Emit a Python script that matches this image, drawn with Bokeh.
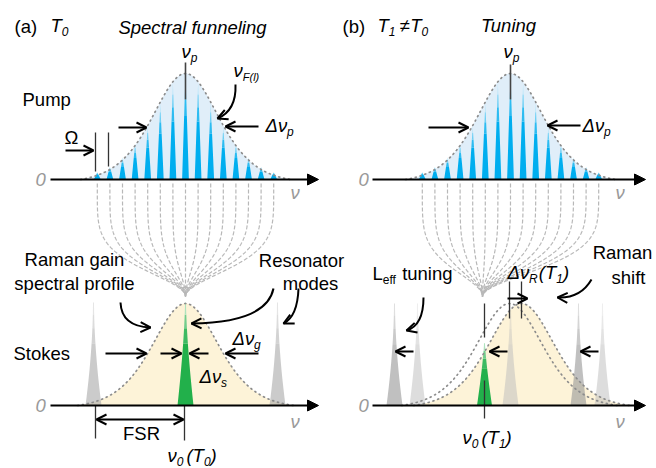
import numpy as np
from bokeh.plotting import figure
from bokeh.models import Range1d, Arrow, OpenHead, NormalHead
from bokeh.core.properties import value
from bokeh.embed import file_html
from bokeh.resources import INLINE

FONT = "Liberation Sans"

# ---------------- schematic values ----------------
# pump comb: line order and relative line power (follows the pump envelope)
COMB_ORDER = [-7, -6, -5, -4, -3, -2, -1, 0, 1, 2, 3, 4, 5, 6, 7]
COMB_REL_POWER = [0.07, 0.12, 0.21, 0.34, 0.50, 0.72, 0.91, 1.00,
                  0.91, 0.72, 0.50, 0.34, 0.21, 0.12, 0.07]
PUMP_CENTER = [185, 510]          # nu_p of panels (a), (b)
COMB_SPACING = 12.6               # Omega
FUNNEL_TARGET = [185, 482]        # where the funnel converges (nu_0)
# Stokes resonator modes
MODES_A_POS = [93, 185, 277]
MODES_A_KIND = ["grey", "green", "grey"]
MODES_A_REL = [1.0, 1.0, 1.0]
MODES_B_POS = [394, 417, 484, 510, 578, 602]
MODES_B_KIND = ["dark", "light", "green", "light", "dark", "light"]
MODES_B_REL = [1.0, 1.0, 0.61, 1.0, 1.0, 1.0]
# Raman gain profile centres: (a) T0 ; (b) original and shifted at T1
GAIN_CENTER_A = [185]
GAIN_CENTER_B = [509, 521]

# ---------------- layout constants ----------------
W, H = 656, 468
Y_PUMP, Y_STOKES = 179, 405
PUMP_H, GAIN_H = 106, 102
ENV_W = 44.8
FS = 18.5

p = figure(width=W, height=H, x_range=Range1d(0, W), y_range=Range1d(H, 0),
           output_backend="svg", toolbar_location=None, min_border=0,
           x_axis_type=None, y_axis_type=None)
p.grid.visible = False
p.outline_line_color = None
p.background_fill_color = "white"
p.border_fill_color = "white"

CW = {"Δ": 0.668, "ν": 0.50, "(": 0.333, ")": 0.333, "T": 0.611, "R": 0.722,
      "≠": 0.584, "L": 0.556, "f": 0.278, "l": 0.222, " ": 0.278, "F": 0.611,
      "s": 0.5, "i": 0.222, "t": 0.278}


def tw(s, size):
    return sum(CW.get(c, 0.556) for c in s) * size


def txt(x, y, s, size=FS, style="normal", color="black", align="left"):
    p.text(x=[x], y=[y], text=[s], text_font=value(FONT),
           text_font_size=f"{size}px", text_font_style=style,
           text_color=color, text_align=align, text_baseline="middle")


def rich(x, y, segs, size=FS, sub=12, style="italic"):
    # segs: (text, is_subscript, extra gap before)
    for s, is_sub, gap in segs:
        x += gap
        if is_sub:
            txt(x, y + 6, s, sub, style)
            x += tw(s, sub)
        else:
            txt(x, y, s, size, style)
            x += tw(s, size)


def arrow(x0, y0, x1, y1, both=False, lw=2, size=10):
    p.add_layout(Arrow(end=OpenHead(size=size, line_width=lw, line_color="black"),
                       start=OpenHead(size=size, line_width=lw, line_color="black") if both else None,
                       x_start=x0, y_start=y0, x_end=x1, y_end=y1,
                       line_width=lw, line_color="black"))


def curved(x0, y0, cx, cy, x1, y1):
    p.quadratic(x0=[x0], y0=[y0], x1=[x1], y1=[y1], cx=[cx], cy=[cy],
                line_width=2, line_color="black")
    d = np.hypot(x1 - cx, y1 - cy)
    ux, uy = (x1 - cx) / d, (y1 - cy) / d
    arrow(x1 - 3 * ux, y1 - 3 * uy, x1, y1)


def axis(x0, x1, y):
    p.add_layout(Arrow(end=NormalHead(size=11, fill_color="black", line_color="black"),
                       x_start=x0, y_start=y, x_end=x1, y_end=y,
                       line_width=2, line_color="black"))


def sech2(u):
    return 1.0 / np.cosh(u) ** 2


def envelope(cx, base, height, span=105):
    xs = np.linspace(cx - span, cx + span, 240)
    s_end = sech2(span / ENV_W)
    ys = base - height * (sech2((xs - cx) / ENV_W) - s_end) / (1 - s_end)
    return xs, ys


def dotted(xs, ys):
    p.line(x=xs, y=ys, line_color="#8c8c8c", line_width=1.7,
           line_dash="1 4", line_cap="round")


def vline(x, y0, y1, color="#333333", lw=1.3):
    p.line(x=[x, x], y=[y0, y1], line_color=color, line_width=lw)


BANDS = [(0.0, 0.6), (0.6, 0.75), (0.75, 0.88), (0.88, 1.0)]


def peak_patches(cx, base, height, hw_base, shape, colors, alphas, store, expo=1.8):
    for (f0, f1), c, a in zip(BANDS, colors, alphas):
        fs = np.linspace(f0, f1, 8)
        if shape == "tri":
            hw = hw_base * (1 - fs)
        else:
            hw = 0.5 + (hw_base - 0.5) * (1 - fs) ** expo
        ys = base - height * fs
        store["xs"].append(list(np.concatenate([cx - hw, (cx + hw)[::-1]])))
        store["ys"].append(list(np.concatenate([ys, ys[::-1]])))
        store["c"].append(c)
        store["a"].append(a)


def draw_store(store):
    p.patches(xs=store["xs"], ys=store["ys"], fill_color=store["c"],
              fill_alpha=store["a"], line_color=None)


BLUE = ["#00aeef", "#2dbcf1", "#6fd0f5", "#b0e4f9"]
GREEN = ["#22b04b", "#3dba62", "#73cd8c", "#aee3bd"]
KIND_STYLE = {
    "grey": (["#a8a8a8"] * 4, [0.6, 0.5, 0.4, 0.3]),
    "dark": (["#9a9a9a"] * 4, [0.62, 0.52, 0.42, 0.32]),
    "light": (["#bcbcbc"] * 4, [0.5, 0.42, 0.34, 0.26]),
    "green": (GREEN, [1, 1, 1, 1]),
}

# ================= upper panels: pump =================
for cx, fx in zip(PUMP_CENTER, FUNNEL_TARGET):
    xs, ys = envelope(cx, Y_PUMP, PUMP_H)
    p.patch(x=list(xs) + [xs[-1], xs[0]], y=list(ys) + [Y_PUMP, Y_PUMP],
            fill_color="#e0eef9", line_color=None)
    store = {"xs": [], "ys": [], "c": [], "a": []}
    for k, r in zip(COMB_ORDER, COMB_REL_POWER):
        peak_patches(cx + k * COMB_SPACING, Y_PUMP, PUMP_H * r, 3.4, "tri",
                     BLUE, [1, 1, 1, 1], store)
    draw_store(store)
    dotted(xs, ys)
    # funnel
    t = np.linspace(0, 1, 120)
    f = 0.5 * (1 + np.cos(np.pi * t ** 2.4))
    fy = 183 + (296 - 183) * t
    fxs, fys = [], []
    for k in COMB_ORDER:
        xi = cx + k * COMB_SPACING
        fxs.append(list(fx + (xi - fx) * f))
        fys.append(list(fy))
    p.multi_line(xs=fxs, ys=fys, line_color="#b8b8b8", line_width=1.2,
                 line_dash="4 2")
    vline(cx, 62 if cx < 300 else 64, 99, color="#444444", lw=1.6)

axis(50, 318, Y_PUMP)
axis(372, 645, Y_PUMP)

# ================= lower panels: Stokes =================
# (a)
for gc in GAIN_CENTER_A:
    xs, ys = envelope(gc, Y_STOKES, GAIN_H, span=108)
    p.patch(x=list(xs) + [xs[-1], xs[0]], y=list(ys) + [Y_STOKES, Y_STOKES],
            fill_color="#fdf3d8", line_color=None)
store = {"xs": [], "ys": [], "c": [], "a": []}
for mx, kind, rel in zip(MODES_A_POS, MODES_A_KIND, MODES_A_REL):
    cols, als = KIND_STYLE[kind]
    peak_patches(mx, Y_STOKES, GAIN_H * rel + 1, 8, "lor", cols, als, store,
                 expo=1.5 if kind == "green" else 1.8)
draw_store(store)
for gc in GAIN_CENTER_A:
    xs, ys = envelope(gc, Y_STOKES, GAIN_H, span=108)
    dotted(xs, ys)

# (b)
xs, ys = envelope(GAIN_CENTER_B[1], Y_STOKES, GAIN_H, span=108)
p.patch(x=list(xs) + [xs[-1], xs[0]], y=list(ys) + [Y_STOKES, Y_STOKES],
        fill_color="#fdf3d8", line_color=None)
store = {"xs": [], "ys": [], "c": [], "a": []}
for mx, kind, rel in zip(MODES_B_POS, MODES_B_KIND, MODES_B_REL):
    cols, als = KIND_STYLE[kind]
    peak_patches(mx, Y_STOKES, GAIN_H * rel, 8 if kind != "green" else 7.5,
                 "lor", cols, als, store, expo=1.3 if kind == "green" else 1.8)
draw_store(store)
for gc in GAIN_CENTER_B:
    xs, ys = envelope(gc, Y_STOKES, GAIN_H, span=108)
    dotted(xs, ys)

axis(50, 318, Y_STOKES)
axis(372, 645, Y_STOKES)

# ================= guide lines =================
vline(95, 132, 171)
vline(108, 132, 166)
vline(95, 405, 438)
vline(184, 405, 440)
vline(509, 281, 318)
vline(521, 281, 318)
vline(484, 303, 337)
vline(484, 380, 418)

# ================= arrows =================
arrow(118, 127, 146, 127)
arrow(258, 126, 225, 126)
arrow(65, 150, 93, 150)
arrow(428, 127, 468, 127)
arrow(580, 125, 547, 125)
curved(235, 84, 236, 110, 217, 118)

arrow(105, 353, 146, 353)
arrow(258, 353, 225, 353)
arrow(160, 353, 181, 353)
arrow(208, 353, 189, 353)
arrow(96, 419, 183, 419, both=True)
curved(120, 302, 121, 326, 150, 327)
curved(273, 288, 266, 322, 191, 323)
curved(298, 288, 297, 316, 283, 323)

arrow(413, 351, 395, 351)
arrow(507, 351, 489, 351)
arrow(598, 351, 580, 351)
arrow(507, 298, 527, 298)
curved(423, 297, 423, 325, 406, 330)
curved(591, 279, 580, 298, 557, 297)

# ================= texts =================
GREY = "#9a9a9a"
# (a) upper
txt(14, 26, "(a)")
rich(50, 25, [("T", False, 0), ("0", True, 0)])
txt(192, 27, "Spectral funneling", style="italic", align="center")
rich(181, 51, [("ν", False, 0), ("p", True, 0)])
rich(233, 70, [("ν", False, 0), ("F(l)", True, 0)], sub=11)
txt(22, 99, "Pump")
rich(265, 125, [("Δν", False, 0), ("p", True, 0)])
txt(64, 137, "Ω")
txt(35, 179, "0", style="italic", color=GREY)
txt(290, 192, "ν", style="italic", color=GREY)
# (a) lower
txt(74, 259, "Raman gain", align="center")
txt(74, 283, "spectral profile", align="center")
txt(301, 260, "Resonator", align="center")
txt(310, 283, "modes", align="center")
txt(13, 353, "Stokes")
rich(232, 338, [("Δν", False, 0), ("g", True, 0)])
rich(199, 376, [("Δν", False, 0), ("s", True, 0)])
txt(35, 405, "0", style="italic", color=GREY)
txt(290, 421, "ν", style="italic", color=GREY)
txt(141, 433, "FSR", align="center")
rich(167, 455, [("ν", False, 0), ("0", True, 0), ("(", False, 3), ("T", False, 0),
                ("0", True, 0), (")", False, 0)])

# (b) upper
txt(342, 26, "(b)")
rich(377, 25, [("T", False, 0), ("1", True, 0), ("≠", False, 4), ("T", False, 0),
               ("0", True, 0)])
txt(508, 25, "Tuning", style="italic", align="center")
rich(503, 51, [("ν", False, 0), ("p", True, 0)])
rich(582, 125, [("Δν", False, 0), ("p", True, 0)])
txt(358, 179, "0", style="italic", color=GREY)
txt(615, 192, "ν", style="italic", color=GREY)
# (b) lower
rich(372, 273, [("L", False, 0), ("eff", True, 0), ("tuning", False, 6)], style="normal")
rich(507, 272, [("Δν", False, 0), ("R", True, 0), ("(", False, 1), ("T", False, 0),
                ("1", True, 0), (")", False, 0)])
txt(622, 252, "Raman", align="center")
txt(628, 277, "shift", align="center")
txt(358, 405, "0", style="italic", color=GREY)
txt(615, 421, "ν", style="italic", color=GREY)
rich(462, 437, [("ν", False, 0), ("0", True, 0), ("(", False, 3), ("T", False, 0),
                ("1", True, 0), (")", False, 0)])

open("out.html", "w").write(file_html(p, INLINE))
